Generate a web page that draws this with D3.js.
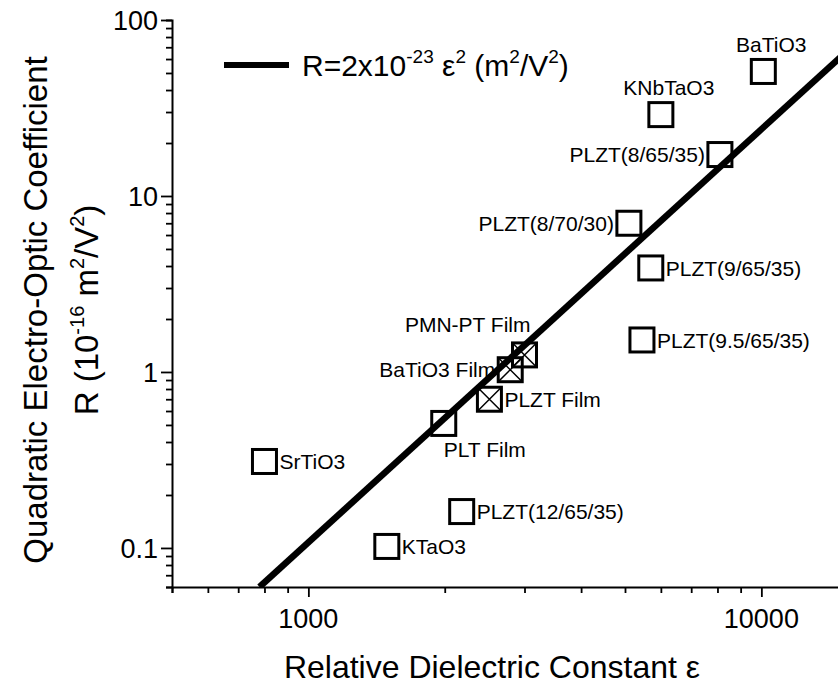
<!DOCTYPE html>
<html>
<head>
<meta charset="utf-8">
<script src="https://cdn.jsdelivr.net/npm/d3@7"></script>
<style>
  body { margin: 0; background: #fff; }
  svg { display: block; font-family: "Liberation Sans", Arial, sans-serif; }
</style>
</head>
<body>
<svg width="838" height="687"></svg>
<script>
// materials and values
const names = ['BaTiO3', 'KNbTaO3', 'PLZT(8/65/35)', 'PLZT(8/70/30)', 'PLZT(9/65/35)',
    'PLZT(9.5/65/35)', 'PMN-PT Film', 'BaTiO3 Film', 'PLZT Film', 'PLT Film',
    'SrTiO3', 'PLZT(12/65/35)', 'KTaO3'];
const epsilon = [10100, 6000, 8100, 5100, 5700, 5450, 3000, 2790, 2510, 1990, 800, 2180, 1490];
const rValues = [51, 29, 17.2, 7.0, 3.9, 1.52, 1.25, 1.03, 0.7, 0.51, 0.31, 0.161, 0.102];
const isFilm = [false, false, false, false, false, false, true, true, true, false, false, false, false];
const labelSide = ['above', 'above', 'left', 'left', 'right', 'right', 'aboveLeft', 'left',
    'right', 'below', 'right', 'right', 'right'];

// fitted line, two ends
const fitEps = [780, 15000];
const fitR = [0.06, 62];

const xTickLabels = [1000, 10000];
const yTickLabels = [0.1, 1, 10, 100];

const svg = d3.select('svg');

const x = d3.scaleLog().domain([500, 15000]).range([172, 172 + 453 * Math.log10(30)]);
const y = d3.scaleLog().domain([0.06, 100]).range([587, 20]);

// clip for the fit line
svg.append('clipPath').attr('id', 'plot')
    .append('rect').attr('x', 172).attr('y', 20).attr('width', 700).attr('height', 567);

// axes
const xAxis = svg.append('g').attr('transform', 'translate(0,587)')
    .call(d3.axisBottom(x).tickValues(x.ticks()).tickSize(6).tickFormat(''));
const yAxis = svg.append('g').attr('transform', 'translate(172,0)')
    .call(d3.axisLeft(y).tickValues(y.ticks()).tickSize(6).tickFormat(''));

[xAxis, yAxis].forEach(g => {
    g.select('.domain').attr('stroke-width', 2).attr('stroke', '#000');
    g.selectAll('.tick line').attr('stroke-width', 1.8).attr('stroke', '#000');
});
xAxis.selectAll('.tick line').filter(d => xTickLabels.includes(d)).attr('y2', 10);
yAxis.selectAll('.tick line').filter(d => yTickLabels.includes(d)).attr('x2', -11);

svg.append('g').selectAll('text').data(xTickLabels).join('text')
    .attr('x', d => x(d)).attr('y', 628)
    .attr('text-anchor', 'middle').style('font-size', '27px')
    .text(d => d);

svg.append('g').selectAll('text').data(yTickLabels).join('text')
    .attr('x', 158).attr('y', d => y(d) + 10)
    .attr('text-anchor', 'end').style('font-size', '27px')
    .text(d => d);

// axis titles
svg.append('text')
    .attr('x', 492).attr('y', 678)
    .attr('text-anchor', 'middle').style('font-size', '32px')
    .text('Relative Dielectric Constant ε');

svg.append('text')
    .attr('transform', 'translate(47,310) rotate(-90)')
    .attr('text-anchor', 'middle').style('font-size', '33px')
    .text('Quadratic Electro-Optic Coefficient');

// text with raised parts; size in px
function supText(sel, size, parts) {
    const lift = Math.round(size * 0.42);
    let raised = false;
    parts.forEach(([t, sup]) => {
        const dy = sup && !raised ? -lift : (!sup && raised ? lift : 0);
        raised = sup;
        sel.append('tspan')
            .attr('dy', dy || null)
            .style('font-size', sup ? Math.round(size * 0.62) + 'px' : null)
            .text(t);
    });
}

const yTitle2 = svg.append('text')
    .attr('transform', 'translate(98,310) rotate(-90)')
    .attr('text-anchor', 'middle').style('font-size', '33px');
supText(yTitle2, 33, [['R (10', false], ['-16', true], [' m', false], ['2', true], ['/V', false], ['2', true], [')', false]]);

// legend
svg.append('line')
    .attr('x1', 224).attr('x2', 289).attr('y1', 65).attr('y2', 65)
    .attr('stroke', '#000').attr('stroke-width', 6);
const legText = svg.append('text')
    .attr('x', 302).attr('y', 76).style('font-size', '30px');
supText(legText, 30, [['R=2x10', false], ['-23', true], [' ε', false], ['2', true], [' (m', false], ['2', true], ['/V', false], ['2', true], [')', false]]);

// points
const pts = names.map((n, i) => ({
    name: n, eps: epsilon[i], r: rValues[i], film: isFilm[i], side: labelSide[i]
}));

const half = 12;
const marks = svg.append('g').selectAll('g').data(pts).join('g')
    .attr('transform', d => `translate(${x(d.eps)},${y(d.r)})`);

marks.append('rect')
    .attr('x', -half).attr('y', -half).attr('width', 2 * half).attr('height', 2 * half)
    .attr('fill', 'none').attr('stroke', '#000').attr('stroke-width', 3);

marks.filter(d => d.film).append('path')
    .attr('d', `M${-half},${-half}L${half},${half}M${half},${-half}L${-half},${half}`)
    .attr('stroke', '#000').attr('stroke-width', 1.5);

// fit line on top
svg.append('line')
    .attr('clip-path', 'url(#plot)')
    .attr('x1', x(fitEps[0])).attr('y1', y(fitR[0]))
    .attr('x2', x(fitEps[1])).attr('y2', y(fitR[1]))
    .attr('stroke', '#000').attr('stroke-width', 6.5);

// point labels
const place = {
    above: { dx: 8, dy: -27, anchor: 'middle' },
    below: { dx: 0, dy: 26, anchor: 'start' },
    left: { dx: -half - 3, dy: 0, anchor: 'end' },
    right: { dx: half + 3, dy: 0, anchor: 'start' },
    aboveLeft: { dx: 6, dy: -30, anchor: 'end' }
};

svg.append('g').selectAll('text').data(pts).join('text')
    .attr('x', d => x(d.eps) + place[d.side].dx)
    .attr('y', d => y(d.r) + place[d.side].dy)
    .attr('dy', '0.36em')
    .attr('text-anchor', d => place[d.side].anchor)
    .style('font-size', '21px')
    .text(d => d.name);
</script>
</body>
</html>
